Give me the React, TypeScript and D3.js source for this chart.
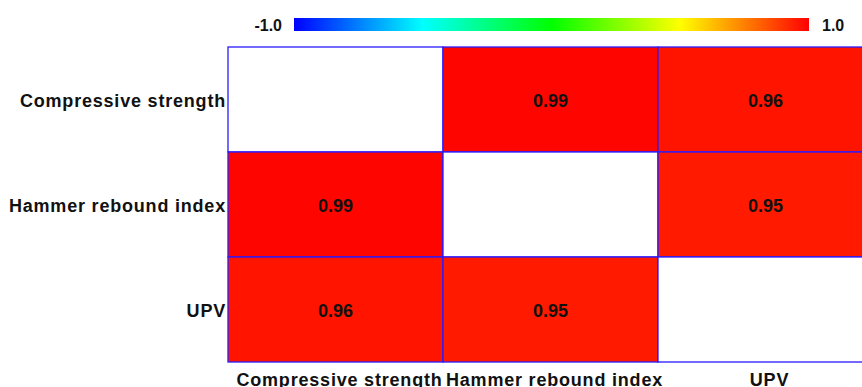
import React from "react";
import * as d3 from "d3";

const variables = ["Compressive strength", "Hammer rebound index", "UPV"];
// Correlation matrix (diagonal left blank)
const row0 = [null, 0.99, 0.96];
const row1 = [0.99, null, 0.95];
const row2 = [0.96, 0.95, null];
const matrix: (number | null)[][] = [row0, row1, row2];
const colorStops = ["#0000ff", "#00ffff", "#00ff00", "#ffff00", "#ff0000"];
const rangeLabels = ["-1.0", "1.0"];

const W = 862;
const H = 387;

export default function App() {
  const gridLeft = 228;
  const cellW = 215;
  const gridTop = 47;
  const cellH = 105;

  const x = d3.scaleBand<string>().domain(variables).range([gridLeft, gridLeft + cellW * 3]);
  const y = d3.scaleBand<string>().domain(variables).range([gridTop, gridTop + cellH * 3]);

  const color = d3
    .scaleLinear<string>()
    .domain([-1, -0.5, 0, 0.5, 1])
    .range(colorStops)
    .interpolate(d3.interpolateRgb)
    .clamp(true);

  const barX0 = 294;
  const barX1 = 809;
  const barY = 18;
  const barH = 13;
  const font = "'Liberation Sans', Arial, sans-serif";
  const fs = 18;

  return (
    <svg width={W} height={H} style={{ display: "block", position: "absolute", left: 0, top: 0 }}>
      <defs>
        <linearGradient id="cbar" x1="0" x2="1" y1="0" y2="0">
          {colorStops.map((c, i) => (
            <stop key={i} offset={i / (colorStops.length - 1)} stopColor={c} />
          ))}
        </linearGradient>
        <clipPath id="plotClip">
          <rect x={0} y={0} width={W} height={H} />
        </clipPath>
      </defs>
      <rect x={0} y={0} width={W} height={H} fill="#fff" />

      {/* color bar */}
      <rect x={barX0} y={barY} width={barX1 - barX0} height={barH} fill="url(#cbar)" />
      <text x={barX0 - 12} y={31} textAnchor="end" fontFamily={font} fontWeight="bold" fontSize={16} fill="#111">
        {rangeLabels[0]}
      </text>
      <text x={barX1 + 13} y={31} textAnchor="start" fontFamily={font} fontWeight="bold" fontSize={16} fill="#111">
        {rangeLabels[1]}
      </text>

      {/* cells */}
      <g clipPath="url(#plotClip)">
        {matrix.map((row, i) =>
          row.map((v, j) => {
            const cx = x(variables[j])!;
            const cy = y(variables[i])!;
            return (
              <g key={`${i}-${j}`}>
                <rect
                  x={cx}
                  y={cy}
                  width={x.bandwidth()}
                  height={y.bandwidth()}
                  fill={v == null ? "#fff" : color(v)}
                  stroke="#2a1aff"
                  strokeWidth={1.3}
                />
                {v != null && (
                  <text
                    x={cx + x.bandwidth() / 2}
                    y={cy + y.bandwidth() / 2 + 7}
                    textAnchor="middle"
                    fontFamily={font}
                    fontWeight="bold"
                    fontSize={fs}
                    fill="#111"
                  >
                    {v.toFixed(2)}
                  </text>
                )}
              </g>
            );
          })
        )}
      </g>

      {/* row labels */}
      {variables.map((name) => (
        <text
          key={`r-${name}`}
          x={gridLeft - 2}
          y={y(name)! + y.bandwidth() / 2 + 7.5}
          textAnchor="end"
          fontFamily={font}
          fontWeight="bold"
          fontSize={fs}
          letterSpacing={0.8}
          fill="#111"
        >
          {name}
        </text>
      ))}

      {/* column labels */}
      {variables.map((name) => (
        <text
          key={`c-${name}`}
          x={x(name)! + x.bandwidth() / 2 + 4}
          y={386}
          textAnchor="middle"
          fontFamily={font}
          fontWeight="bold"
          fontSize={fs}
          letterSpacing={0.8}
          fill="#111"
        >
          {name}
        </text>
      ))}
    </svg>
  );
}
